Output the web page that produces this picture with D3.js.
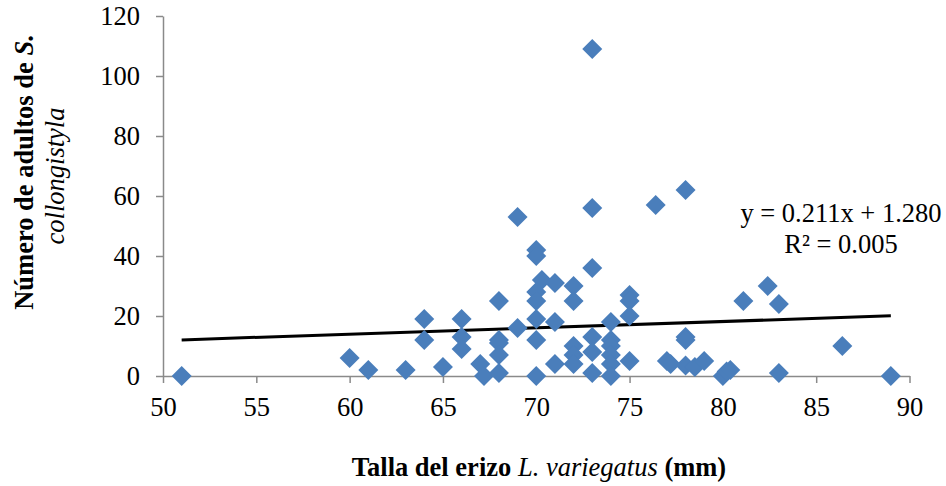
<!DOCTYPE html>
<html>
<head>
<meta charset="utf-8">
<script src="https://cdn.jsdelivr.net/npm/d3@7"></script>
<style>
  body { margin: 0; background: #fff; }
  text { font-family: "Liberation Serif", "Times New Roman", serif; fill: #000; }
</style>
</head>
<body>
<div id="chart"></div>
<script>
// talla del erizo (mm) and numero de adultos
var talla = [51, 60, 61, 63, 64, 64, 65, 66, 66, 66, 67, 67.2, 68, 68, 68, 68, 68,
    69, 69, 70, 70, 70.3, 71, 70, 70, 72, 72, 70, 71, 70, 70, 71, 72, 72, 72,
    73, 73, 76.4, 78, 73, 75, 75, 75, 74, 73, 74, 74, 73, 74, 74, 73, 74, 75,
    77, 77.2, 78, 78, 78, 78.5, 79, 80, 80.2, 80.4, 81.1, 82.4, 83, 83, 86.4, 89];
var adultos = [0, 6, 2, 2, 19, 12, 3, 19, 13, 9, 4, 0, 25, 12, 11, 7, 1,
    53, 16, 42, 40, 32, 31, 28, 25, 30, 25, 19, 18, 12, 0, 4, 10, 7, 4,
    109, 56, 57, 62, 36, 27, 25, 20, 18, 13, 12, 10, 8, 7, 4, 1, 0, 5,
    5, 4, 13, 12, 3.5, 3, 5, 0, 1.5, 2, 25, 30, 24, 1, 10, 0];

var xTicks = [50, 55, 60, 65, 70, 75, 80, 85, 90];
var yTicks = [0, 20, 40, 60, 80, 100, 120];

// linear trend shown on the chart
var slope = 0.211, intercept = 1.280;
var eqLines = ["y = 0.211x + 1.280", "R\u00b2 = 0.005"];

(function () {
    var width = 946, height = 486;
    var mLeft = 163, mRight = 909.5, mTop = 16, mBottom = 376;
    var fontSize = "26.5px";

    var svg = d3.select("#chart").append("svg")
        .attr("width", width)
        .attr("height", height)
        .style("display", "block");

    svg.append("rect").attr("width", width).attr("height", height).attr("fill", "#fff");

    var x = d3.scaleLinear().domain([50, 90]).range([mLeft, mRight]);
    var y = d3.scaleLinear().domain([0, 120]).range([mBottom, mTop]);

    var axisColor = "#8a8a8a";

    var xAxis = svg.append("g")
        .attr("transform", "translate(0," + mBottom + ")")
        .call(d3.axisBottom(x).tickValues(xTicks).tickSize(7).tickSizeOuter(0).tickPadding(14));

    var yAxis = svg.append("g")
        .attr("transform", "translate(" + mLeft + ",0)")
        .call(d3.axisLeft(y).tickValues(yTicks).tickSize(7).tickSizeOuter(0).tickPadding(16));

    [xAxis, yAxis].forEach(function (g) {
        g.select(".domain").attr("stroke", axisColor).attr("stroke-width", 1.5);
        g.selectAll(".tick line").attr("stroke", axisColor).attr("stroke-width", 1.5);
        g.selectAll(".tick text")
            .style("font-family", "Liberation Serif")
            .style("font-size", fontSize)
            .attr("fill", "#000");
    });
    xAxis.selectAll(".tick text").attr("dy", "0.71em");

    // trend line over the data range
    var xmin = d3.min(talla), xmax = d3.max(talla);
    svg.append("line")
        .attr("x1", x(xmin)).attr("y1", y(slope * xmin + intercept))
        .attr("x2", x(xmax)).attr("y2", y(slope * xmax + intercept))
        .attr("stroke", "#000")
        .attr("stroke-width", 3);

    var points = talla.map(function (t, i) { return { t: t, n: adultos[i] }; });

    var diamond = d3.symbol().type(d3.symbolSquare).size(200);

    svg.selectAll(".punto")
        .data(points)
        .enter().append("path")
        .attr("class", "punto")
        .attr("d", diamond)
        .attr("transform", function (d) {
            return "translate(" + x(d.t) + "," + y(d.n) + ") rotate(45)";
        })
        .attr("fill", "#4a7ebb");

    // equation label
    svg.append("text")
        .attr("x", 841)
        .attr("y", 222)
        .attr("text-anchor", "middle")
        .style("font-size", fontSize)
        .selectAll("tspan")
        .data(eqLines)
        .enter().append("tspan")
        .attr("x", 841)
        .attr("dy", function (d, i) { return i === 0 ? 0 : 31; })
        .text(function (d) { return d; });

    // x title
    var xt = svg.append("text")
        .attr("x", 539)
        .attr("y", 476)
        .attr("text-anchor", "middle")
        .style("font-size", fontSize);
    xt.append("tspan").attr("font-weight", "bold").text("Talla del erizo ");
    xt.append("tspan").attr("font-style", "italic").text("L. variegatus");
    xt.append("tspan").attr("font-weight", "bold").text(" (mm)");

    // y title, two lines
    var yt1 = svg.append("text")
        .attr("transform", "translate(33,172) rotate(-90)")
        .attr("text-anchor", "middle")
        .style("font-size", fontSize)
        .attr("font-weight", "bold");
    yt1.append("tspan").text("N\u00famero de adultos de ");
    yt1.append("tspan").attr("font-style", "italic").text("S.");

    svg.append("text")
        .attr("transform", "translate(64,176) rotate(-90)")
        .attr("text-anchor", "middle")
        .style("font-size", fontSize)
        .attr("font-style", "italic")
        .text("collongistyla");
})();
</script>
</body>
</html>
